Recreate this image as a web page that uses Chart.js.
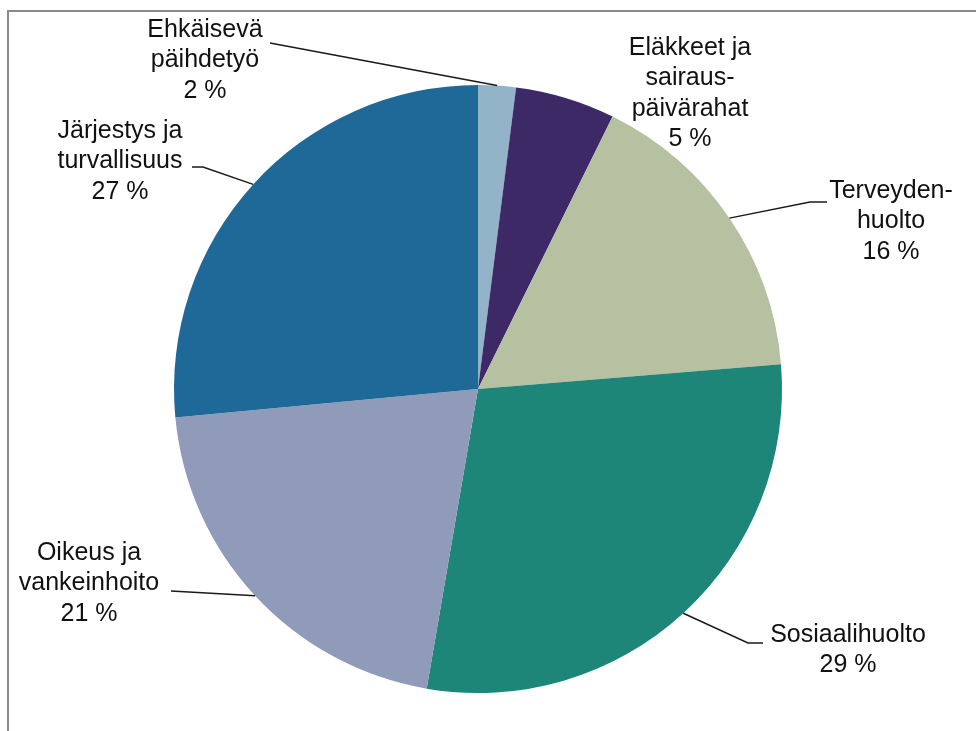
<!DOCTYPE html>
<html>
<head>
<meta charset="utf-8">
<script src="https://cdn.jsdelivr.net/npm/chart.js@4/dist/chart.umd.min.js"></script>
<style>
  body { margin: 0; background: #fff; }
  canvas { display: block; }
</style>
</head>
<body>
<canvas id="pie" width="976" height="731"></canvas>
<script>
// spending by sector, share of total (%)
const categories = [
  ['Ehkäisevä', 'päihdetyö'],
  ['Eläkkeet ja', 'sairaus-', 'päivärahat'],
  ['Terveyden-', 'huolto'],
  ['Sosiaalihuolto'],
  ['Oikeus ja', 'vankeinhoito'],
  ['Järjestys ja', 'turvallisuus']
];
const shares = [2.0, 5.3, 16.4, 29.0, 20.8, 26.5];
const colors = ['#93b3c9', '#3d2966', '#b5c1a0', '#1e8579', '#8f9bb9', '#1f6999'];

// where each label block sits (centre x, first line y) and the leader path from the text
const labelAt = [[205, 30], [690, 48], [891, 191], [848, 635], [89, 553], [120, 131]];
const leaders = [
  [[270, 43]],
  null,
  [[827, 202], [810, 202]],
  [[763, 643], [748, 643]],
  [[171, 591]],
  [[192, 167], [203, 167]]
];

const total = shares.reduce((a, b) => a + b, 0);
const LINE_H = 30.5;

const labelPlugin = {
  id: 'sliceLabels',
  beforeDraw(chart) {
    const ctx = chart.ctx;
    ctx.save();
    ctx.strokeStyle = '#8a8a8a';
    ctx.lineWidth = 2;
    ctx.strokeRect(8, 11, 1000, 760);
    ctx.restore();
  },
  afterDraw(chart) {
    const ctx = chart.ctx;
    const arcs = chart.getDatasetMeta(0).data;
    ctx.save();
    // leader lines
    ctx.strokeStyle = '#1a1a1a';
    ctx.lineWidth = 1.5;
    arcs.forEach((arc, i) => {
      if (!leaders[i]) return;
      const p = arc.getProps(['x', 'y', 'startAngle', 'endAngle', 'outerRadius'], true);
      const mid = (p.startAngle + p.endAngle) / 2;
      ctx.beginPath();
      leaders[i].forEach((pt, k) => k ? ctx.lineTo(pt[0], pt[1]) : ctx.moveTo(pt[0], pt[1]));
      ctx.lineTo(p.x + Math.cos(mid) * p.outerRadius, p.y + Math.sin(mid) * p.outerRadius);
      ctx.stroke();
    });
    // text
    ctx.fillStyle = '#111';
    ctx.font = '25px "Liberation Sans", Arial, sans-serif';
    ctx.textAlign = 'center';
    ctx.textBaseline = 'middle';
    categories.forEach((lines, i) => {
      const pct = Math.round(shares[i] * 100 / total) + ' %';
      const [cx, y0] = labelAt[i];
      lines.concat([pct]).forEach((t, k) => ctx.fillText(t, cx, y0 + k * LINE_H));
    });
    ctx.restore();
  }
};

new Chart(document.getElementById('pie'), {
  type: 'pie',
  data: {
    labels: categories,
    datasets: [{
      data: shares,
      backgroundColor: colors,
      borderWidth: 0
    }]
  },
  options: {
    responsive: false,
    animation: false,
    layout: { padding: { left: 174, right: 194, top: 85, bottom: 38 } },
    plugins: {
      legend: { display: false },
      tooltip: { enabled: false }
    }
  },
  plugins: [labelPlugin]
});
</script>
</body>
</html>
